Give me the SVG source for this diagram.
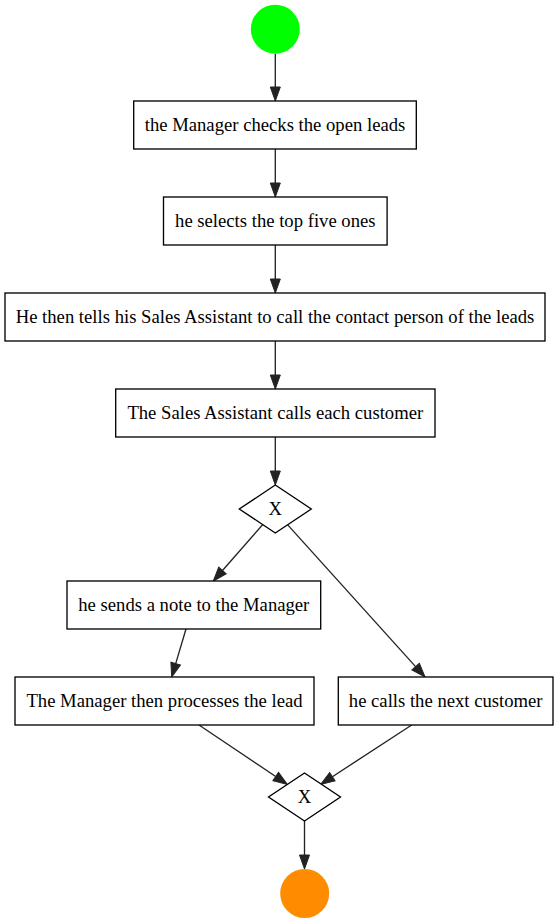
<svg xmlns="http://www.w3.org/2000/svg" width="559" height="923" viewBox="0 0 559 923">
<style>
  .box { fill: #ffffff; stroke: #000000; stroke-width: 1.33; }
  .gw { fill: #ffffff; stroke: #000000; stroke-width: 1.33; }
  .lbl { font-family: "Liberation Serif", "Times New Roman", serif; font-size: 18.67px; fill: #000000; text-anchor: middle; }
  .edge { fill: none; stroke: #222222; stroke-width: 1.33; marker-end: url(#arrow); }
</style>
<defs>
  <marker id="arrow" markerUnits="userSpaceOnUse" markerWidth="14" markerHeight="10" viewBox="0 -5 14 10" refX="0" refY="0" orient="auto" overflow="visible">
    <path d="M0,-5 L14,0 L0,5 Z" fill="#222222" stroke="#222222" stroke-width="1"/>
  </marker>
</defs>
<rect width="559" height="923" fill="#ffffff"/>
<g id="edges">
  <line class="edge" x1="275.3" y1="53.7" x2="275.3" y2="87"/>
  <line class="edge" x1="275.3" y1="149" x2="275.3" y2="183"/>
  <line class="edge" x1="275.3" y1="245" x2="275.3" y2="279"/>
  <line class="edge" x1="275.3" y1="341" x2="275.3" y2="375"/>
  <line class="edge" x1="275.3" y1="437" x2="275.3" y2="471"/>
  <line class="edge" x1="262.8" y1="524.5" x2="222.5" y2="570.5"/>
  <line class="edge" x1="287.7" y1="524.9" x2="415.6" y2="666.6"/>
  <line class="edge" x1="186" y1="629" x2="175.7" y2="663.6"/>
  <line class="edge" x1="199" y1="725" x2="275.7" y2="776.5"/>
  <line class="edge" x1="411.7" y1="725" x2="332.4" y2="776.7"/>
  <line class="edge" x1="304.5" y1="821" x2="304.5" y2="855"/>
</g>
<g id="start">
  <circle cx="275.3" cy="29.2" r="24.5" fill="#00ff00"/>
</g>
<g id="task1">
  <rect class="box" x="133.7" y="101" width="282.6" height="48"/>
  <text class="lbl" x="275" y="130.5">the Manager checks the open leads</text>
</g>
<g id="task2">
  <rect class="box" x="163.5" y="197" width="223.6" height="48"/>
  <text class="lbl" x="275.3" y="226.5">he selects the top five ones</text>
</g>
<g id="task3">
  <rect class="box" x="5" y="293" width="540" height="48"/>
  <text class="lbl" x="275" y="322.5">He then tells his Sales Assistant to call the contact person of the leads</text>
</g>
<g id="task4">
  <rect class="box" x="115.7" y="389" width="319.3" height="48"/>
  <text class="lbl" x="275.3" y="418.5">The Sales Assistant calls each customer</text>
</g>
<g id="gateway1">
  <polygon class="gw" points="275.3,485 311.3,509 275.3,533 239.3,509"/>
  <text class="lbl" x="275.3" y="514.5">X</text>
</g>
<g id="task5">
  <rect class="box" x="67" y="581" width="253.7" height="48"/>
  <text class="lbl" x="193.8" y="610.5">he sends a note to the Manager</text>
</g>
<g id="task6">
  <rect class="box" x="15" y="677" width="299" height="48"/>
  <text class="lbl" x="164.5" y="706.5">The Manager then processes the lead</text>
</g>
<g id="task7">
  <rect class="box" x="338.3" y="677" width="214.7" height="48"/>
  <text class="lbl" x="445.7" y="706.5">he calls the next customer</text>
</g>
<g id="gateway2">
  <polygon class="gw" points="304.5,773 340.5,797 304.5,821 268.5,797"/>
  <text class="lbl" x="304.5" y="802.5">X</text>
</g>
<g id="end">
  <circle cx="304.7" cy="893.5" r="24.5" fill="#ff8c00"/>
</g>
</svg>
